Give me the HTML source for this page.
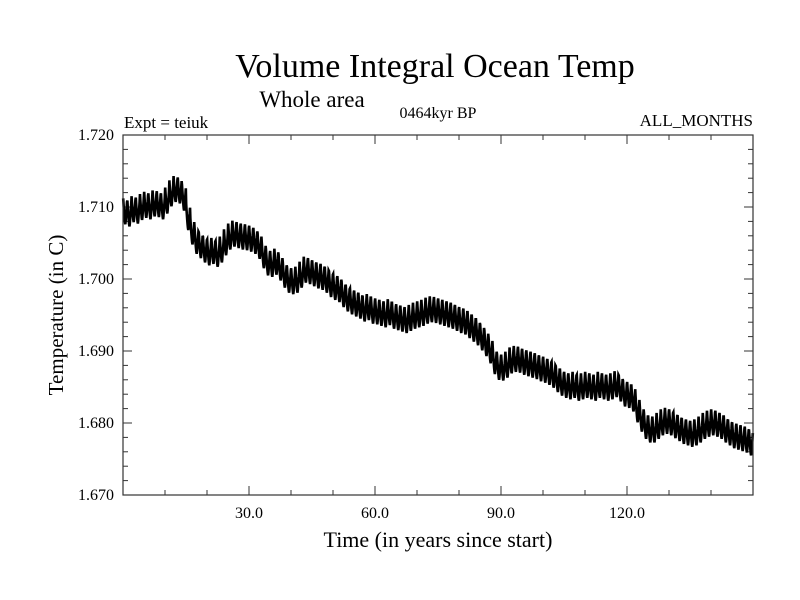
<!DOCTYPE html>
<html><head><meta charset="utf-8"><style>
body{margin:0;background:#fff;}
svg{display:block;font-family:"Liberation Serif",serif;}
</style></head><body>
<svg id="chart" width="800" height="600">
<rect width="800" height="600" fill="#fff"/>
<text x="435" y="77" font-size="34" text-anchor="middle">Volume Integral Ocean Temp</text>
<text x="312" y="107" font-size="23" text-anchor="middle">Whole area</text>
<text x="124" y="128" font-size="17">Expt = teiuk</text>
<text x="438" y="118" font-size="16" text-anchor="middle">0464kyr BP</text>
<text x="753" y="126" font-size="17" text-anchor="end">ALL_MONTHS</text>
<text x="438" y="547" font-size="22" text-anchor="middle">Time (in years since start)</text>
<text transform="translate(63,315) rotate(-90)" font-size="21" text-anchor="middle">Temperature (in C)</text>
<g id="ticks"></g>
<g id="plot"></g>
<rect x="123" y="135" width="630" height="360" fill="none" stroke="#333" stroke-width="1.2"/>
</svg>
<script>
const annualMeans = [
1.7093,1.7090,1.7096,1.7094,1.7099,1.7102,1.7100,1.7104,1.7103,1.7100,
1.7108,1.7118,1.7124,1.7122,1.7112,1.7085,1.7065,1.7052,1.7046,1.7040,
1.7036,1.7038,1.7034,1.7040,1.7050,1.7058,1.7062,1.7060,1.7058,1.7057,
1.7055,1.7052,1.7045,1.7032,1.7022,1.7020,1.7023,1.7015,1.7005,1.6998,
1.6996,1.6998,1.7005,1.7012,1.7010,1.7007,1.7004,1.7002,1.6998,1.6992,
1.6988,1.6985,1.6978,1.6972,1.6968,1.6965,1.6962,1.6958,1.6960,1.6955,
1.6954,1.6952,1.6950,1.6953,1.6948,1.6946,1.6944,1.6942,1.6945,1.6948,
1.6950,1.6952,1.6955,1.6957,1.6956,1.6954,1.6952,1.6950,1.6948,1.6945,
1.6942,1.6940,1.6935,1.6930,1.6925,1.6918,1.6910,1.6900,1.6885,1.6877,
1.6876,1.6880,1.6886,1.6888,1.6887,1.6884,1.6882,1.6880,1.6878,1.6875,
1.6873,1.6870,1.6866,1.6860,1.6855,1.6852,1.6850,1.6852,1.6848,1.6850,
1.6852,1.6850,1.6848,1.6852,1.6850,1.6848,1.6850,1.6853,1.6847,1.6840,
1.6838,1.6833,1.6818,1.6805,1.6795,1.6790,1.6790,1.6795,1.6800,1.6802,
1.6800,1.6796,1.6792,1.6788,1.6786,1.6784,1.6786,1.6790,1.6795,1.6798,
1.6800,1.6798,1.6795,1.6790,1.6786,1.6782,1.6780,1.6778,1.6776,1.6772];
const seasonalCycle = [0.0019,0.0011,0.0004,-0.0003,-0.0009,-0.0014,-0.0017,-0.0013,-0.0006,0.0000,0.0006,0.0014];
const yTicks = [1.670,1.680,1.690,1.700,1.710,1.720];
const yTickLabels = ["1.670","1.680","1.690","1.700","1.710","1.720"];
const xTicks = [30,60,90,120];
const xTickLabels = ["30.0","60.0","90.0","120.0"];
const X0=123,X1=753,Y0=495,Y1=135;
const xMin=0,xMax=150,yMin=1.670,yMax=1.720;
const sx=v=>X0+(v-xMin)/(xMax-xMin)*(X1-X0);
const sy=v=>Y0-(v-yMin)/(yMax-yMin)*(Y0-Y1);
const NS="http://www.w3.org/2000/svg";
const tg=document.getElementById('ticks'), pg=document.getElementById('plot');
function ln(x1,y1,x2,y2,name){const l=document.createElementNS(NS,'line');
l.setAttribute('x1',x1);l.setAttribute('y1',y1);l.setAttribute('x2',x2);l.setAttribute('y2',y2);
l.setAttribute('stroke','#333');l.setAttribute('stroke-width','1');


tg.appendChild(l);}
for(let i=0;i<=25;i++){const v=yMin+i*0.002;const y=sy(v);const major=i%5===0;const L=major?9:5;
ln(X0,y,X0+L,y,'y-tick');ln(X1,y,X1-L,y,'y-tick-right');}
for(let i=0;i<=15;i++){const v=i*10;const x=sx(v);const major=v%30===0;const L=major?9:5;
ln(x,Y0,x,Y0-L,'x-tick');ln(x,Y1,x,Y1+L,'x-tick-top');}
yTicks.forEach((v,i)=>{const t=document.createElementNS(NS,'text');
t.setAttribute('x',114);t.setAttribute('y',sy(v)+5);t.setAttribute('font-size','16');t.setAttribute('text-anchor','end');
t.textContent=yTickLabels[i];


tg.appendChild(t);});
xTicks.forEach((v,i)=>{const t=document.createElementNS(NS,'text');
t.setAttribute('x',sx(v));t.setAttribute('y',518);t.setAttribute('font-size','16');t.setAttribute('text-anchor','middle');
t.textContent=xTickLabels[i];


tg.appendChild(t);});
let pts=[];
annualMeans.forEach((a,yr)=>{seasonalCycle.forEach((s,m)=>{const t=yr+(m+0.5)/12;pts.push(sx(t).toFixed(2)+','+sy(a+s).toFixed(2));});});
const pl=document.createElementNS(NS,'polyline');
pl.setAttribute('points',pts.join(' '));pl.setAttribute('fill','none');pl.setAttribute('stroke','#000');pl.setAttribute('stroke-width','2.6');


pg.appendChild(pl);
</script>
</body></html>
